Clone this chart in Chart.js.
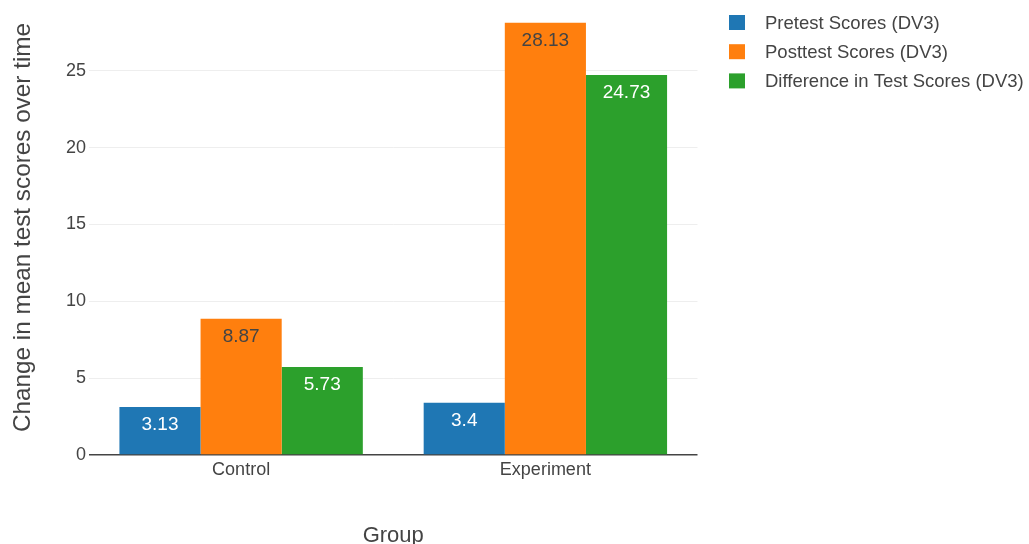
<!DOCTYPE html>
<html><head><meta charset="utf-8">
<script src="https://cdn.jsdelivr.net/npm/chart.js@4.4.0/dist/chart.umd.min.js"></script>
<style>html,body{margin:0;padding:0;background:#fff;overflow:hidden}#wrap{width:1029px;height:544px;position:relative}</style>
</head><body><div id="wrap"><canvas id="c" width="1029" height="544"></canvas></div>
<script>
const categories = ['Control', 'Experiment'];
const seriesNames = ['Pretest Scores (DV3)', 'Posttest Scores (DV3)', 'Difference in Test Scores (DV3)'];
const pretest = [3.13, 3.4];
const posttest = [8.87, 28.13];
const difference = [5.73, 24.73];
const yTicks = [0, 5, 10, 15, 20, 25];
const yMax = 29.61;
const xTitle = 'Group';
const yTitle = 'Change in mean test scores over time';

const colors = ['#1f77b4', '#ff7f0e', '#2ca02c'];
const labelColors = ['#ffffff', '#444444', '#ffffff'];
const FONT = '"Liberation Sans", Arial, sans-serif';

const valueLabels = {
  id: 'valueLabels',
  afterDatasetsDraw(chart) {
    const ctx = chart.ctx;
    ctx.save();
    ctx.font = '19px ' + FONT;
    ctx.textAlign = 'center';
    ctx.textBaseline = 'alphabetic';
    chart.data.datasets.forEach((ds, i) => {
      const meta = chart.getDatasetMeta(i);
      meta.data.forEach((bar, j) => {
        ctx.fillStyle = labelColors[i];
        ctx.fillText(String(ds.data[j]), bar.x, bar.y + 23);
      });
    });
    ctx.restore();
  }
};

const sideLegend = {
  id: 'sideLegend',
  afterDraw(chart) {
    const ctx = chart.ctx;
    const x0 = chart.chartArea.right + 31.5;
    ctx.save();
    ctx.font = '18.5px ' + FONT;
    ctx.textAlign = 'left';
    ctx.textBaseline = 'alphabetic';
    chart.data.datasets.forEach((ds, i) => {
      const cy = 22.5 + i * 29.2;
      ctx.fillStyle = ds.backgroundColor;
      ctx.fillRect(x0, cy - 7.5, 16, 15);
      ctx.fillStyle = '#444444';
      ctx.fillText(ds.label, x0 + 36, cy + 6.5);
    });
    ctx.restore();
  }
};

new Chart(document.getElementById('c'), {
  type: 'bar',
  data: {
    labels: categories,
    datasets: [
      { label: seriesNames[0], data: pretest, backgroundColor: colors[0] },
      { label: seriesNames[1], data: posttest, backgroundColor: colors[1] },
      { label: seriesNames[2], data: difference, backgroundColor: colors[2] }
    ]
  },
  options: {
    responsive: false,
    animation: false,
    devicePixelRatio: 1,
    layout: { padding: { left: 0, right: 331.5, top: 0, bottom: 0 } },
    plugins: { legend: { display: false }, tooltip: { enabled: false } },
    datasets: { bar: { categoryPercentage: 0.8, barPercentage: 1.0, borderWidth: 0 } },
    scales: {
      x: {
        grid: { display: false },
        border: { display: false },
        ticks: { color: '#444444', font: { size: 18, family: FONT }, padding: -4 },
        title: { display: true, text: xTitle, color: '#444444', font: { size: 22, family: FONT, lineHeight: 0.75 }, padding: 0 },
        afterFit(s) { s.height = 89; }
      },
      y: {
        min: 0,
        max: yMax,
        afterBuildTicks(s) { s.ticks = yTicks.map(v => ({ value: v })); },
        grid: {
          color: c => (c.tick && c.tick.value === 0) ? '#444444' : '#eeeeee',
          lineWidth: c => (c.tick && c.tick.value === 0) ? 1.5 : 1,
          drawTicks: false
        },
        border: { display: false },
        ticks: { color: '#444444', font: { size: 18, family: FONT }, padding: 3 },
        title: { display: true, text: yTitle, color: '#444444', font: { size: 24.3, family: FONT }, padding: { top: 8.6, bottom: 0 } },
        afterFit(s) { s.width = 89; s.paddingTop = 0; }
      }
    }
  },
  plugins: [valueLabels, sideLegend]
});
</script>
</body></html>
